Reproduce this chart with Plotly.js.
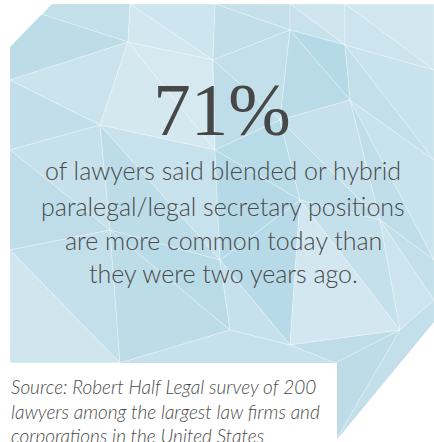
<!DOCTYPE html>
<html>
<head>
<meta charset="utf-8">
<script src="https://cdn.plot.ly/plotly-3.0.1.min.js"></script>
<style>html,body{margin:0;padding:0;background:#fff;}#chart{width:434px;height:442px;}</style>
</head>
<body>
<div id="chart"></div>
<script>
// ---- data ----
var statValue = 71;
var statSuffix = '%';
var captionLines = [
  'of lawyers said blended or hybrid',
  'paralegal/legal secretary positions',
  'are more common today than',
  'they were two years ago.'
];
var sourceLines = [
  'Source: Robert Half Legal survey of 200',
  'lawyers among the largest law firms and',
  'corporations in the United States'
];

// ---- layout helpers (pixel -> paper) ----
var W = 434, H = 442;
function px(x){ return x / W; }
function py(y){ return 1 - y / H; }
function poly(pts, fill, line){
  var d = pts.map(function(p, i){ return (i ? 'L' : 'M') + px(p[0]).toFixed(4) + ',' + py(p[1]).toFixed(4); }).join(' ') + ' Z';
  return {type:'path', xref:'paper', yref:'paper', path:d, fillcolor:fill,
          line:{color: line || 'rgba(255,255,255,0.28)', width: line === 'none' ? 0 : 1}, layer:'below'};
}

// facet points
var P = {
  A:[10,4], B:[130,4], C:[215,4], D:[290,4], E:[345,4], F:[434,4],
  G:[10,80], H:[128,42], I:[213,60], J:[290,30], K:[345,45], L:[434,70],
  M:[10,150], N:[100,125], O:[215,150], Pp:[280,120], Q:[350,100], R:[434,160],
  S:[10,250], T:[110,230], U:[220,260], V:[300,200], Wp:[380,220], X:[434,260],
  Y:[10,363], Z:[120,363], a:[230,330], b:[290,345], c:[335,363], d:[400,330], e:[434,300],
  f:[335,442], g:[434,442], h:[10,442]
};
var facets = [
  [['A','B','H'], '#c3dfea'], [['A','H','G'], '#bcdce8'],
  [['B','C','I'], '#cde5ee'], [['B','I','H'], '#d2e7ef'],
  [['C','D','J'], '#c5e0ea'], [['C','J','I'], '#c1dee9'],
  [['D','E','K'], '#cfe6ee'], [['D','K','J'], '#c8e2ec'],
  [['E','F','L'], '#d2e7ef'], [['E','L','K'], '#cce4ed'],
  [['G','H','N'], '#cae3ec'], [['G','N','M'], '#c1deea'],
  [['H','I','O'], '#d6e9f0'], [['H','O','N'], '#d3e8ef'],
  [['I','J','Pp'], '#c2dfea'], [['I','Pp','O'], '#bedde9'],
  [['J','K','Q'], '#b4d9e7'], [['J','Q','Pp'], '#b9dbe8'],
  [['K','L','R'], '#c9e3ec'], [['K','R','Q'], '#c3e0ea'],
  [['M','N','T'], '#c6e1eb'], [['M','T','S'], '#bfdde9'],
  [['N','O','U'], '#c7e2ec'], [['N','U','T'], '#bcdce8'],
  [['O','Pp','V'], '#b8dbe8'], [['O','V','U'], '#b5d9e7'],
  [['Pp','Q','Wp'], '#c6e1eb'], [['Pp','Wp','V'], '#bddde9'],
  [['Q','R','X'], '#c9e3ec'], [['Q','X','Wp'], '#c0dee9'],
  [['S','T','Z'], '#c3dfea'], [['S','Z','Y'], '#d0e6ee'],
  [['T','U','a'], '#b9dbe8'], [['T','a','Z'], '#bcdce8'],
  [['U','V','b'], '#b6dae7'], [['U','b','a'], '#c6e1eb'],
  [['V','Wp','d'], '#c4e0ea'], [['V','d','b'], '#d2e7ef'],
  [['Wp','X','e'], '#c3dfea'], [['Wp','e','d'], '#cbe4ed'],
  [['b','d','c'], '#bfdde9'], [['c','d','f'], '#bddce8'], [['d','e','g','f'], '#c3dfea'],
  [['Y','Z','a','b','c','f','h'], '#c6e1eb']
];
var shapes = facets.map(function(fc){ return poly(fc[0].map(function(k){ return P[k]; }), fc[1]); });
// cut-outs (white)
shapes.push(poly([[0,0],[434,0],[434,4],[52,4],[10,47],[10,442],[0,442]], '#ffffff', 'none'));
shapes.push(poly([[434,322],[434,442],[335,442]], '#ffffff', 'none'));
shapes.push(poly([[0,363],[337,363],[337,442],[0,442]], '#ffffff', 'none'));

var annotations = [];
var capY = [170, 206, 240, 273];
captionLines.forEach(function(t, i){
  annotations.push({text:t, xref:'paper', yref:'paper', x:px(223), y:py(capY[i]),
    xanchor:'center', yanchor:'middle', showarrow:false,
    font:{family:'Lato', size:25, weight:300, color:'#4a4a4a'}});
});
var srcY = [386, 411, 435];
sourceLines.forEach(function(t, i){
  annotations.push({text:t, xref:'paper', yref:'paper', x:px(9), y:py(srcY[i]),
    xanchor:'left', yanchor:'middle', showarrow:false,
    font:{family:'Lato', size:19, weight:300, style:'italic', color:'#4a4a4a'}});
});

// big statistic drawn as a text mark through the (hidden) axes
var data = [{
  type:'scatter', mode:'text', x:[0.5], y:[0.5],
  text:[String(statValue) + statSuffix], textposition:'middle center',
  textfont:{family:'Liberation Serif, serif', size:75, color:'#474747'},
  hoverinfo:'skip'
}];

var layout = {
  width:W, height:H, margin:{l:0,r:0,t:0,b:0},
  paper_bgcolor:'#ffffff', plot_bgcolor:'rgba(0,0,0,0)',
  xaxis:{visible:false, range:[0,1], domain:[px(120), px(324)], fixedrange:true},
  yaxis:{visible:false, range:[0,1], domain:[py(152), py(80)], fixedrange:true},
  shapes:shapes, annotations:annotations, showlegend:false
};
Plotly.newPlot('chart', data, layout, {staticPlot:true, displayModeBar:false});
</script>
</body>
</html>
